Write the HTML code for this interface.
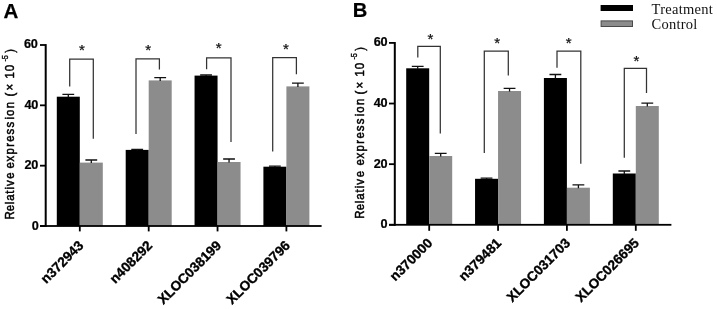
<!DOCTYPE html>
<html><head><meta charset="utf-8"><title>Figure</title>
<style>html,body{margin:0;padding:0;background:#fff}svg{display:block}</style>
</head><body>
<svg width="717" height="309" viewBox="0 0 717 309">
<rect width="717" height="309" fill="#fff"/>
<rect x="56.80" y="96.70" width="23.00" height="129.30" fill="#000"/>
<rect x="79.80" y="162.60" width="23.00" height="63.40" fill="#8c8c8c"/>
<rect x="125.70" y="149.90" width="23.00" height="76.10" fill="#000"/>
<rect x="148.70" y="80.40" width="23.00" height="145.60" fill="#8c8c8c"/>
<rect x="194.55" y="75.60" width="23.00" height="150.40" fill="#000"/>
<rect x="217.55" y="162.00" width="23.00" height="64.00" fill="#8c8c8c"/>
<rect x="263.40" y="166.70" width="23.00" height="59.30" fill="#000"/>
<rect x="286.40" y="86.40" width="23.00" height="139.60" fill="#8c8c8c"/>
<rect x="44.70" y="44.10" width="2" height="182.90" fill="#000"/>
<rect x="40.00" y="225.10" width="281.60" height="1.8" fill="#000"/>
<rect x="40.00" y="44.10" width="5.70" height="1.8" fill="#000"/>
<rect x="40.00" y="104.43" width="5.70" height="1.8" fill="#000"/>
<rect x="40.00" y="164.77" width="5.70" height="1.8" fill="#000"/>
<rect x="40.00" y="225.10" width="5.70" height="1.8" fill="#000"/>
<rect x="78.90" y="226.00" width="1.8" height="5.4" fill="#000"/>
<rect x="147.80" y="226.00" width="1.8" height="5.4" fill="#000"/>
<rect x="216.65" y="226.00" width="1.8" height="5.4" fill="#000"/>
<rect x="285.50" y="226.00" width="1.8" height="5.4" fill="#000"/>
<text x="37.50" y="48.20" text-anchor="end" font-family="Liberation Sans, sans-serif" font-weight="bold" font-size="12.7" letter-spacing="-0.35" fill="#000" stroke="#000" stroke-width="0.22">60</text>
<text x="37.90" y="108.53" text-anchor="end" font-family="Liberation Sans, sans-serif" font-weight="bold" font-size="12.7" letter-spacing="-0.35" fill="#000" stroke="#000" stroke-width="0.22">40</text>
<text x="38.00" y="169.47" text-anchor="end" font-family="Liberation Sans, sans-serif" font-weight="bold" font-size="12.7" letter-spacing="-0.35" fill="#000" stroke="#000" stroke-width="0.22">20</text>
<text x="38.40" y="230.10" text-anchor="end" font-family="Liberation Sans, sans-serif" font-weight="bold" font-size="12.7" letter-spacing="-0.35" fill="#000" stroke="#000" stroke-width="0.22">0</text>
<g transform="translate(14.40 219.50) rotate(-90) scale(0.9 1)" font-family="Liberation Sans, sans-serif" fill="#000" stroke="#000" stroke-width="0.5">
<text x="0.00 9.29 17.05 20.92 28.68 33.32 37.19 45.17 53.48 56.58 64.33 72.09 80.72 86.48 94.57 102.32 111.08 114.95 123.58" y="0" font-size="12.7">Relative expression</text>
<text x="136.56 143.44 156.67 164.78" y="0" font-size="12.7">(×10</text>
<text x="175.44 178.00" y="-6.6" font-size="8.2" stroke-width="0.35">-5</text>
<text x="185.22" y="0" font-size="12.7">)</text>
</g>
<path d="M62.40 94.30H74.20M68.30 94.30V97.20" stroke="#111" stroke-width="1.3" fill="none"/>
<path d="M85.40 160.00H97.20M91.30 160.00V163.10" stroke="#111" stroke-width="1.3" fill="none"/>
<path d="M131.30 149.30H143.10M137.20 149.30V150.40" stroke="#111" stroke-width="1.3" fill="none"/>
<path d="M154.30 77.70H166.10M160.20 77.70V80.90" stroke="#111" stroke-width="1.3" fill="none"/>
<path d="M200.15 75.00H211.95M206.05 75.00V76.10" stroke="#111" stroke-width="1.3" fill="none"/>
<path d="M223.15 159.00H234.95M229.05 159.00V162.50" stroke="#111" stroke-width="1.3" fill="none"/>
<path d="M269.00 166.10H280.80M274.90 166.10V167.20" stroke="#111" stroke-width="1.3" fill="none"/>
<path d="M292.00 83.10H303.80M297.90 83.10V86.90" stroke="#111" stroke-width="1.3" fill="none"/>
<path d="M69.70 86.50V59.00H93.30V138.80" stroke="#333" stroke-width="1.25" fill="none"/>
<path d="M136.00 134.00V58.80H159.40V69.60" stroke="#333" stroke-width="1.25" fill="none"/>
<path d="M206.60 69.30V57.80H231.00V142.00" stroke="#333" stroke-width="1.25" fill="none"/>
<path d="M272.70 151.40V57.50H296.40V74.30" stroke="#333" stroke-width="1.25" fill="none"/>
<text x="82.00" y="54.95" text-anchor="middle" font-family="Liberation Sans, sans-serif" font-size="15" fill="#111" stroke="#111" stroke-width="0.25">*</text>
<text x="148.20" y="55.15" text-anchor="middle" font-family="Liberation Sans, sans-serif" font-size="15" fill="#111" stroke="#111" stroke-width="0.25">*</text>
<text x="218.70" y="53.05" text-anchor="middle" font-family="Liberation Sans, sans-serif" font-size="15" fill="#111" stroke="#111" stroke-width="0.25">*</text>
<text x="286.00" y="53.95" text-anchor="middle" font-family="Liberation Sans, sans-serif" font-size="15" fill="#111" stroke="#111" stroke-width="0.25">*</text>
<text transform="translate(84.30 246.30) rotate(-45)" text-anchor="end" font-family="Liberation Sans, sans-serif" font-weight="bold" font-size="13.6" fill="#000" stroke="#000" stroke-width="0.35">n372943</text>
<text transform="translate(153.20 246.30) rotate(-45)" text-anchor="end" font-family="Liberation Sans, sans-serif" font-weight="bold" font-size="13.6" fill="#000" stroke="#000" stroke-width="0.35">n408292</text>
<text transform="translate(222.05 246.30) rotate(-45)" text-anchor="end" font-family="Liberation Sans, sans-serif" font-weight="bold" font-size="13.6" fill="#000" stroke="#000" stroke-width="0.35">XLOC038199</text>
<text transform="translate(290.90 246.30) rotate(-45)" text-anchor="end" font-family="Liberation Sans, sans-serif" font-weight="bold" font-size="13.6" fill="#000" stroke="#000" stroke-width="0.35">XLOC039796</text>
<text x="3.6" y="17.6" font-family="Liberation Sans, sans-serif" font-weight="bold" font-size="20.5" fill="#000" stroke="#000" stroke-width="0.25">A</text>
<rect x="406.20" y="68.30" width="23.00" height="156.50" fill="#000"/>
<rect x="429.20" y="156.00" width="23.00" height="68.80" fill="#8c8c8c"/>
<rect x="475.05" y="178.80" width="23.00" height="46.00" fill="#000"/>
<rect x="498.05" y="91.00" width="23.00" height="133.80" fill="#8c8c8c"/>
<rect x="543.90" y="78.00" width="23.00" height="146.80" fill="#000"/>
<rect x="566.90" y="187.70" width="23.00" height="37.10" fill="#8c8c8c"/>
<rect x="612.80" y="173.50" width="23.00" height="51.30" fill="#000"/>
<rect x="635.80" y="106.00" width="23.00" height="118.80" fill="#8c8c8c"/>
<rect x="393.80" y="42.00" width="2" height="183.80" fill="#000"/>
<rect x="389.00" y="223.90" width="282.40" height="1.8" fill="#000"/>
<rect x="389.00" y="42.00" width="5.80" height="1.8" fill="#000"/>
<rect x="389.00" y="102.63" width="5.80" height="1.8" fill="#000"/>
<rect x="389.00" y="163.27" width="5.80" height="1.8" fill="#000"/>
<rect x="389.00" y="223.90" width="5.80" height="1.8" fill="#000"/>
<rect x="428.30" y="224.80" width="1.8" height="6.0" fill="#000"/>
<rect x="497.15" y="224.80" width="1.8" height="6.0" fill="#000"/>
<rect x="566.00" y="224.80" width="1.8" height="6.0" fill="#000"/>
<rect x="634.90" y="224.80" width="1.8" height="6.0" fill="#000"/>
<text x="387.20" y="46.30" text-anchor="end" font-family="Liberation Sans, sans-serif" font-weight="bold" font-size="12.7" letter-spacing="-0.35" fill="#000" stroke="#000" stroke-width="0.22">60</text>
<text x="387.20" y="106.93" text-anchor="end" font-family="Liberation Sans, sans-serif" font-weight="bold" font-size="12.7" letter-spacing="-0.35" fill="#000" stroke="#000" stroke-width="0.22">40</text>
<text x="387.20" y="167.57" text-anchor="end" font-family="Liberation Sans, sans-serif" font-weight="bold" font-size="12.7" letter-spacing="-0.35" fill="#000" stroke="#000" stroke-width="0.22">20</text>
<text x="387.20" y="228.20" text-anchor="end" font-family="Liberation Sans, sans-serif" font-weight="bold" font-size="12.7" letter-spacing="-0.35" fill="#000" stroke="#000" stroke-width="0.22">0</text>
<g transform="translate(363.70 218.80) rotate(-90) scale(0.9 1)" font-family="Liberation Sans, sans-serif" fill="#000" stroke="#000" stroke-width="0.5">
<text x="0.00 9.42 17.30 21.30 29.18 33.96 37.96 46.06 53.48 59.36 67.11 74.87 83.50 89.26 97.34 105.10 113.85 117.73 126.36" y="0" font-size="12.7">Relative expression</text>
<text x="138.00 144.89 158.11 166.22" y="0" font-size="12.7">(×10</text>
<text x="176.89 179.44" y="-6.6" font-size="8.2" stroke-width="0.35">-5</text>
<text x="186.67" y="0" font-size="12.7">)</text>
</g>
<path d="M411.80 66.30H423.60M417.70 66.30V68.80" stroke="#111" stroke-width="1.3" fill="none"/>
<path d="M434.80 153.40H446.60M440.70 153.40V156.50" stroke="#111" stroke-width="1.3" fill="none"/>
<path d="M480.65 178.20H492.45M486.55 178.20V179.30" stroke="#111" stroke-width="1.3" fill="none"/>
<path d="M503.65 88.30H515.45M509.55 88.30V91.50" stroke="#111" stroke-width="1.3" fill="none"/>
<path d="M549.50 74.50H561.30M555.40 74.50V78.50" stroke="#111" stroke-width="1.3" fill="none"/>
<path d="M572.50 184.90H584.30M578.40 184.90V188.20" stroke="#111" stroke-width="1.3" fill="none"/>
<path d="M618.40 171.00H630.20M624.30 171.00V174.00" stroke="#111" stroke-width="1.3" fill="none"/>
<path d="M641.40 103.20H653.20M647.30 103.20V106.50" stroke="#111" stroke-width="1.3" fill="none"/>
<path d="M417.80 57.40V46.30H440.30V133.40" stroke="#333" stroke-width="1.25" fill="none"/>
<path d="M484.30 153.00V51.10H508.30V75.50" stroke="#333" stroke-width="1.25" fill="none"/>
<path d="M557.00 67.70V51.10H580.80V163.80" stroke="#333" stroke-width="1.25" fill="none"/>
<path d="M624.30 157.80V68.40H646.50V92.90" stroke="#333" stroke-width="1.25" fill="none"/>
<text x="430.30" y="44.25" text-anchor="middle" font-family="Liberation Sans, sans-serif" font-size="15" fill="#111" stroke="#111" stroke-width="0.25">*</text>
<text x="497.20" y="48.05" text-anchor="middle" font-family="Liberation Sans, sans-serif" font-size="15" fill="#111" stroke="#111" stroke-width="0.25">*</text>
<text x="568.70" y="48.05" text-anchor="middle" font-family="Liberation Sans, sans-serif" font-size="15" fill="#111" stroke="#111" stroke-width="0.25">*</text>
<text x="636.50" y="66.45" text-anchor="middle" font-family="Liberation Sans, sans-serif" font-size="15" fill="#111" stroke="#111" stroke-width="0.25">*</text>
<text transform="translate(433.30 243.90) rotate(-45)" text-anchor="end" font-family="Liberation Sans, sans-serif" font-weight="bold" font-size="13.6" fill="#000" stroke="#000" stroke-width="0.35">n370000</text>
<text transform="translate(502.15 243.90) rotate(-45)" text-anchor="end" font-family="Liberation Sans, sans-serif" font-weight="bold" font-size="13.6" fill="#000" stroke="#000" stroke-width="0.35">n379481</text>
<text transform="translate(571.00 243.90) rotate(-45)" text-anchor="end" font-family="Liberation Sans, sans-serif" font-weight="bold" font-size="13.6" fill="#000" stroke="#000" stroke-width="0.35">XLOC031703</text>
<text transform="translate(639.90 243.90) rotate(-45)" text-anchor="end" font-family="Liberation Sans, sans-serif" font-weight="bold" font-size="13.6" fill="#000" stroke="#000" stroke-width="0.35">XLOC026695</text>
<text x="352.8" y="17.4" font-family="Liberation Sans, sans-serif" font-weight="bold" font-size="20.2" fill="#000" stroke="#000" stroke-width="0.2">B</text>
<rect x="600.6" y="5" width="32.4" height="6" fill="#000"/>
<rect x="601.1" y="20.9" width="31.4" height="5.6" fill="#8c8c8c" stroke="#4a4a4a" stroke-width="1"/>
<text x="651.6" y="13.8" font-family="Liberation Serif, serif" font-size="14.5" letter-spacing="0.25" fill="#111">Treatment</text>
<text x="651.6" y="29.2" font-family="Liberation Serif, serif" font-size="14.5" letter-spacing="0.25" fill="#111">Control</text>
</svg>
</body></html>
